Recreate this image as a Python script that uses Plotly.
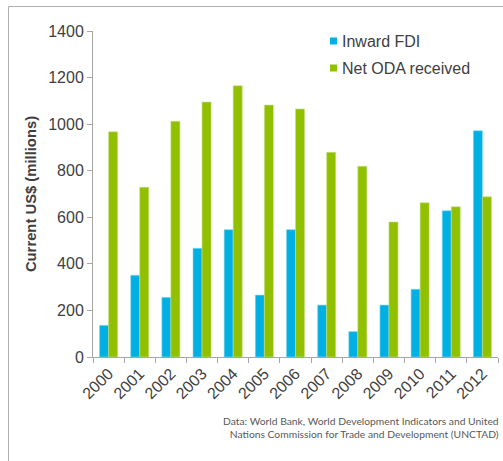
import plotly.graph_objects as go

# values (US$ millions)
years = ["2000", "2001", "2002", "2003", "2004", "2005", "2006",
         "2007", "2008", "2009", "2010", "2011", "2012"]
inward_fdi = [136, 351, 256, 467, 547, 266, 547, 223, 109, 223, 291, 628, 972]
net_oda = [967, 729, 1012, 1095, 1165, 1082, 1065, 879, 819, 580, 662, 645, 688]
series_names = ["Inward FDI", "Net ODA received"]

BLUE = "#00B0E2"
GREEN = "#90C000"
AXIS = "#A6A6A6"
TEXT = "#404040"

W, H = 503, 461
L, R, T, B = 93, 5, 31, 104


def px_to_paper(px, py):
    return (px - L) / (W - L - R), (H - B - py) / (H - T - B)


fig = go.Figure()
fig.add_trace(go.Bar(x=years, y=inward_fdi, name=series_names[0], marker_color=BLUE,
                     marker_line=dict(color="#7FD8F2", width=0.6),
                     showlegend=False))
fig.add_trace(go.Bar(x=years, y=net_oda, name=series_names[1], marker_color=GREEN,
                     marker_line=dict(color="#C6E07F", width=0.6),
                     showlegend=False))

# hand-made legend: small square swatch + label, like the original
shapes = []
annotations = []
for i, (name, col) in enumerate(zip(series_names, [BLUE, GREEN])):
    cy = 41 + 27 * i
    sx0, sy0 = px_to_paper(330, cy - 3.5)
    sx1, sy1 = px_to_paper(337, cy + 3.5)
    shapes.append(dict(type="rect", xref="paper", yref="paper",
                       x0=sx0, x1=sx1, y0=sy0, y1=sy1,
                       fillcolor=col, line=dict(width=0)))
    tx, ty = px_to_paper(340, cy)
    annotations.append(dict(text=name, xref="paper", yref="paper", x=tx, y=ty,
                            xanchor="left", yanchor="middle", showarrow=False,
                            font=dict(size=16, color=TEXT)))

# frame lines on the left and top of the picture
x0, y0 = px_to_paper(8.5, 6.5)
_, ybot = px_to_paper(8.5, H + 5)
x1, _ = px_to_paper(W + 5, 6.5)
shapes += [
    dict(type="line", xref="paper", yref="paper", x0=x0, y0=y0, x1=x0, y1=ybot,
         line=dict(color="#B0B0B0", width=1)),
    dict(type="line", xref="paper", yref="paper", x0=x0, y0=y0, x1=x1, y1=y0,
         line=dict(color="#B0B0B0", width=1)),
]

annotations.append(dict(
    text="Data: World Bank, World Development Indicators and United<br>"
         "Nations Commission for Trade and Development (UNCTAD)",
    xref="paper", yref="paper",
    x=px_to_paper(501, 0)[0], y=px_to_paper(0, 413)[1],
    xanchor="right", yanchor="top", align="right", showarrow=False,
    font=dict(family="Lato, Open Sans", size=10.3, color="#595959")))

fig.update_layout(
    width=W, height=H,
    margin=dict(l=L, r=R, t=T, b=B),
    paper_bgcolor="white", plot_bgcolor="white",
    barmode="group", bargap=0.42, bargroupgap=0,
    font=dict(family="Liberation Sans, Arial", color=TEXT),
    showlegend=False,
    xaxis=dict(
        showline=True, linecolor=AXIS, linewidth=1,
        ticks="outside", tickson="boundaries", ticklen=5, tickcolor=AXIS,
        tickangle=-45, tickfont=dict(size=16, color=TEXT),
        showgrid=False, fixedrange=True,
    ),
    yaxis=dict(
        range=[0, 1400], dtick=200,
        showline=True, linecolor=AXIS, linewidth=1,
        ticks="outside", ticklen=5, tickcolor=AXIS,
        tickfont=dict(size=16, color=TEXT),
        showgrid=False, zeroline=False,
        title=dict(text="<b>Current US$ (millions)</b>", standoff=8,
                   font=dict(size=14.8, color=TEXT)),
    ),
    shapes=shapes,
    annotations=annotations,
)

# the page body has an 8px default margin; drop it so the chart fills the window
fig.write_html("out.html", config={"displayModeBar": False},
               post_script="document.body.style.margin='0';")
